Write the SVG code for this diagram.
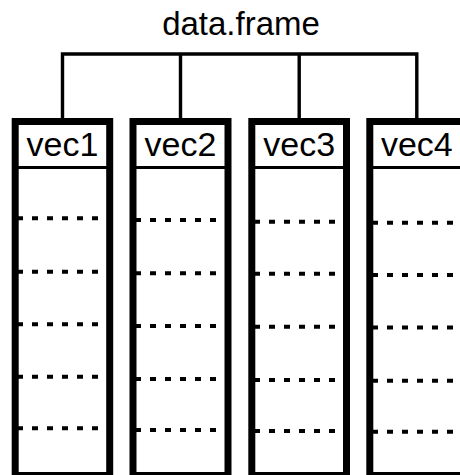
<svg xmlns="http://www.w3.org/2000/svg" width="460" height="475" viewBox="0 0 460 475">
<style>
.box{fill:#fff;stroke:#000;stroke-width:7}
.sep{stroke:#000;stroke-width:3.2}
.dash{stroke:#000;stroke-width:4;stroke-dasharray:6 9}
.conn{fill:none;stroke:#000;stroke-width:3.4}
.lbl{font-family:"Liberation Sans",Arial,Helvetica,sans-serif;font-size:34px;text-anchor:middle;fill:#000}
.title{font-family:"Liberation Sans",Arial,Helvetica,sans-serif;font-size:33px;text-anchor:middle;fill:#000}
</style>
<rect width="460" height="475" fill="#fff"/>
<g id="title"><text class="title" x="241" y="35">data.frame</text></g>
<g id="connectors">
<path class="conn" d="M62.5,54 H416.8 M62.5,52.3 V118 M180.5,54 V118 M299.2,54 V118 M416.8,52.3 V118"/>
</g>
<g id="vec1">
<rect class="box" x="15.2" y="121.5" width="94.5" height="354"/>
<line class="sep" x1="15" y1="167.5" x2="110" y2="167.5"/>
<line class="dash" x1="17" y1="218.3" x2="100" y2="218.3"/>
<line class="dash" x1="17" y1="271.7" x2="100" y2="271.7"/>
<line class="dash" x1="17" y1="324.3" x2="100" y2="324.3"/>
<line class="dash" x1="17" y1="376.7" x2="100" y2="376.7"/>
<line class="dash" x1="17" y1="428.3" x2="100" y2="428.3"/>
<text class="lbl" x="62.5" y="155.5">vec1</text>
</g>
<g id="vec2">
<rect class="box" x="133" y="121.5" width="95" height="354"/>
<line class="sep" x1="133" y1="167.5" x2="228" y2="167.5"/>
<line class="dash" x1="135" y1="220" x2="219" y2="220"/>
<line class="dash" x1="135" y1="273.3" x2="219" y2="273.3"/>
<line class="dash" x1="135" y1="326" x2="219" y2="326"/>
<line class="dash" x1="135" y1="379" x2="219" y2="379"/>
<line class="dash" x1="135" y1="430" x2="219" y2="430"/>
<text class="lbl" x="180.5" y="155.5">vec2</text>
</g>
<g id="vec3">
<rect class="box" x="251.8" y="121.5" width="94.7" height="354"/>
<line class="sep" x1="252" y1="167.5" x2="346.5" y2="167.5"/>
<line class="dash" x1="254" y1="221.7" x2="338" y2="221.7"/>
<line class="dash" x1="254" y1="273.8" x2="338" y2="273.8"/>
<line class="dash" x1="254" y1="326.7" x2="338" y2="326.7"/>
<line class="dash" x1="254" y1="380" x2="338" y2="380"/>
<line class="dash" x1="254" y1="431" x2="338" y2="431"/>
<text class="lbl" x="299.2" y="155.5">vec3</text>
</g>
<g id="vec4">
<rect class="box" x="369.8" y="121.5" width="94.5" height="354"/>
<line class="sep" x1="370" y1="167.5" x2="464" y2="167.5"/>
<line class="dash" x1="372" y1="222.7" x2="460" y2="222.7"/>
<line class="dash" x1="372" y1="275" x2="460" y2="275"/>
<line class="dash" x1="372" y1="327.5" x2="460" y2="327.5"/>
<line class="dash" x1="372" y1="380.7" x2="460" y2="380.7"/>
<line class="dash" x1="372" y1="431.7" x2="460" y2="431.7"/>
<text class="lbl" x="416.8" y="155.5">vec4</text>
</g>
</svg>
